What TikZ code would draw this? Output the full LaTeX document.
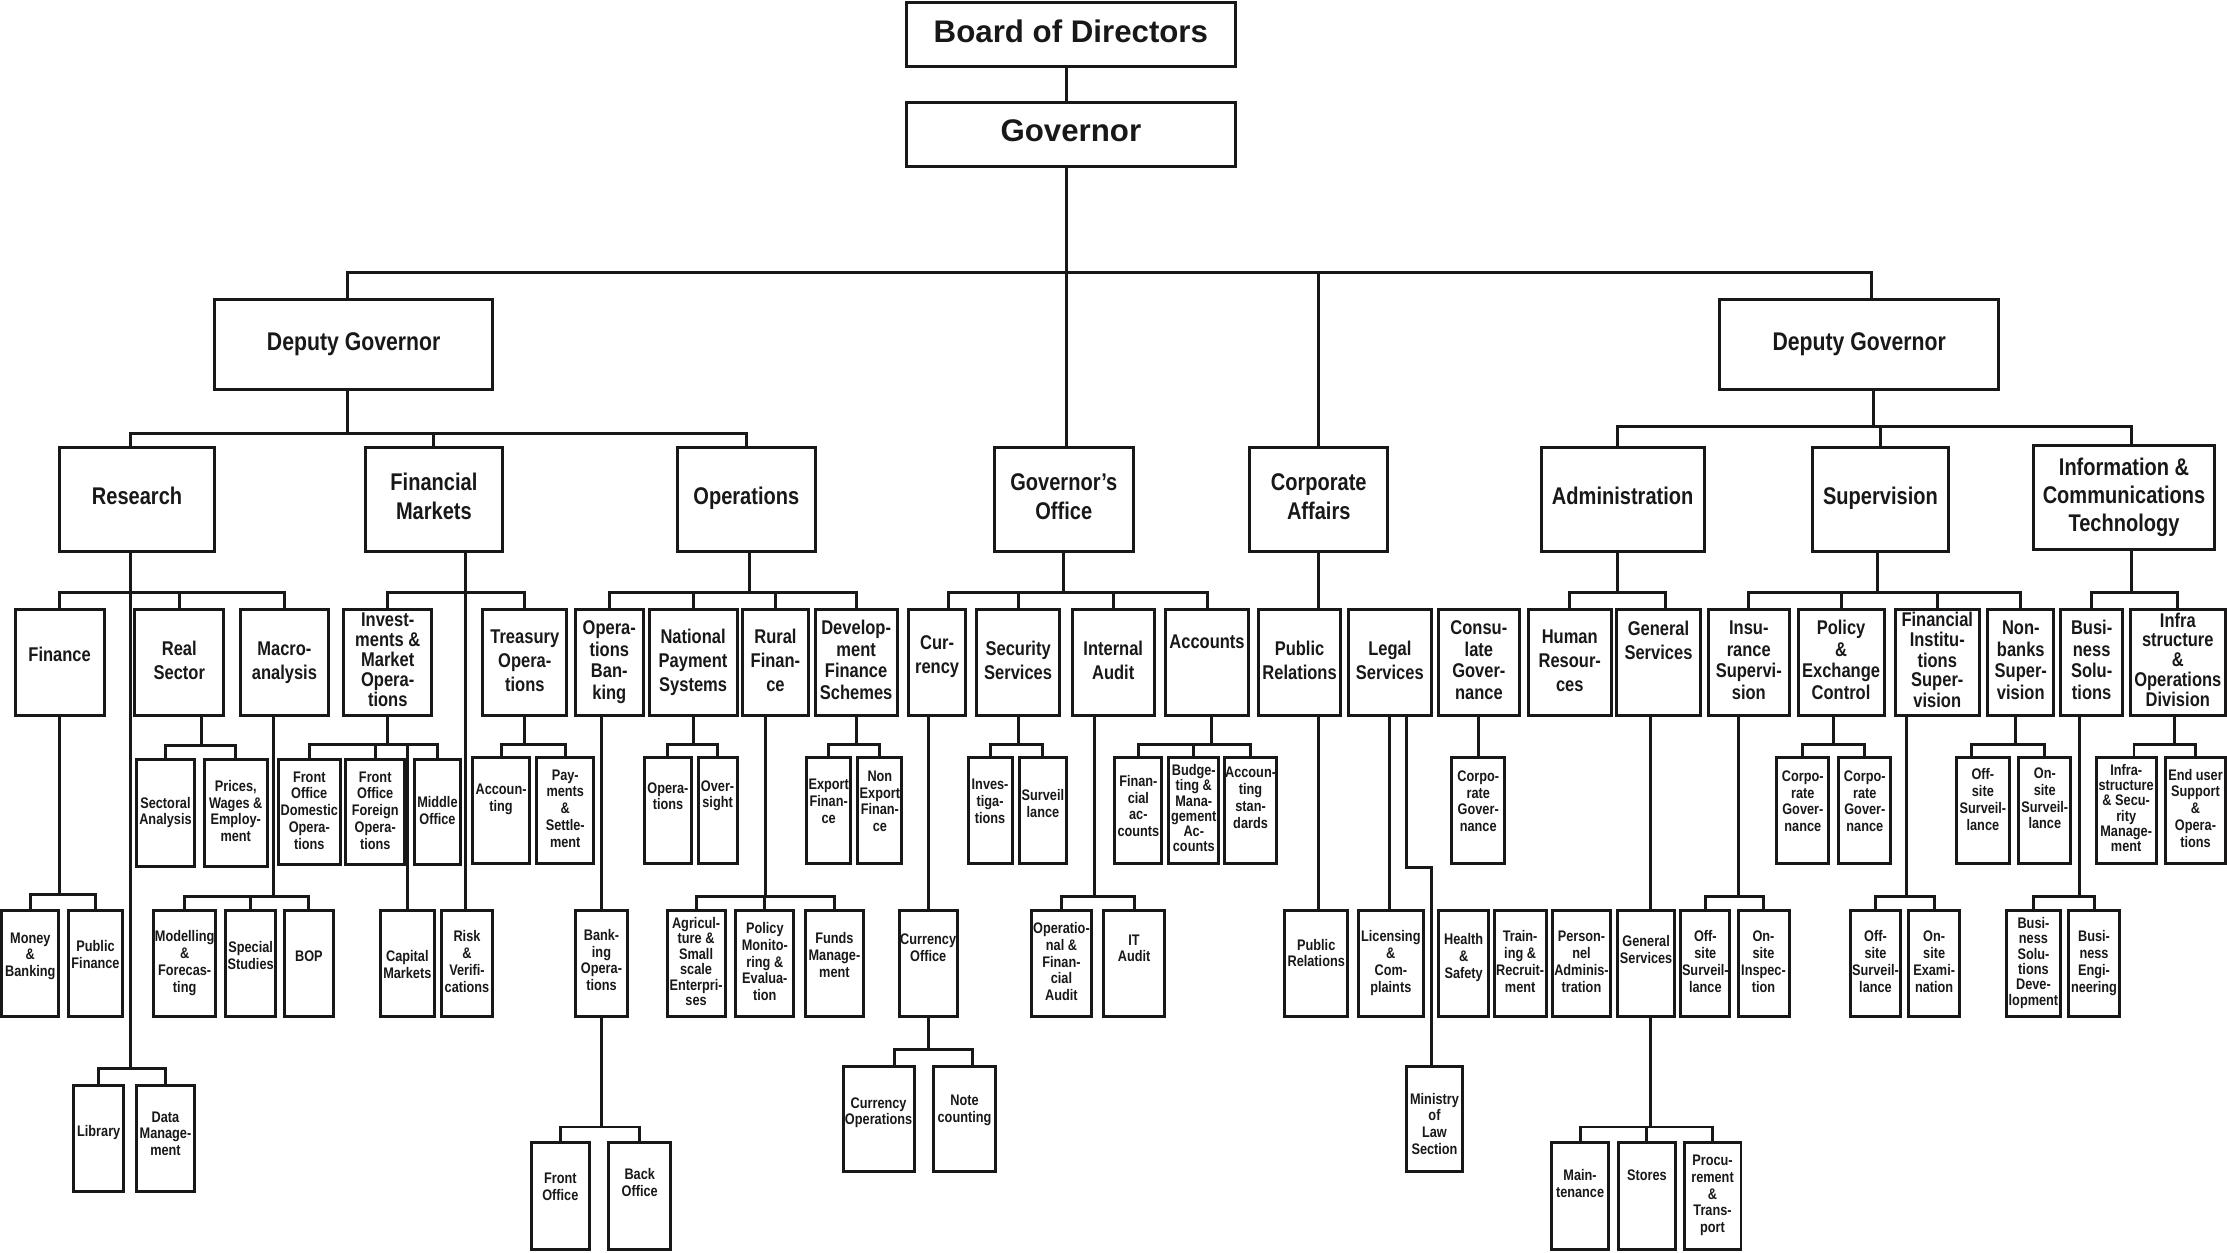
\documentclass[tikz,border=0pt]{standalone}
\usepackage{fontspec}
\setmainfont{Liberation Sans}[FakeStretch=0.83]
\newfontfamily\topfont{Liberation Sans}
\definecolor{ink}{HTML}{1A1718}
\tikzset{
 box/.style={draw=ink, line width=1.05pt, inner sep=0pt, outer sep=0pt, text=ink},
 conn/.style={draw=ink, line width=1.05pt},
 ltop/.style={font=\topfont\fontsize{11}{13}\selectfont\bfseries},
 ldg/.style={font=\fontsize{9}{11}\selectfont\bfseries},
 lone/.style={font=\fontsize{8.5}{10}\selectfont\bfseries},
 ltwo/.style={font=\fontsize{7}{8.5}\selectfont\bfseries},
 ltwoq/.style={font=\fontsize{7}{7.6}\selectfont\bfseries},
 ltwof/.style={font=\fontsize{7}{6.8}\selectfont\bfseries},
 lthree/.style={font=\fontsize{5.4}{5.9}\selectfont\bfseries},
 lthrees/.style={font=\fontsize{5.4}{5.35}\selectfont\bfseries},
}
% [text lift]{style}{name}{x1}{y1}{x2}{y2}{text}
\newcommand\bx[8][0]{%
 \pgfmathsetlengthmacro\bxw{(#6-#4)*0.5pt}%
 \pgfmathsetlengthmacro\bxh{(#7-#5)*0.5pt}%
 \node[box,#2] (#3) at ({(#4+#6)/2},{(#5+#7)/2})
  {\parbox[c][\bxh][c]{\bxw}{\centering\begin{tabular}{@{}c@{}}#8\end{tabular}\par\vspace{#1pt}}};}
\newcommand\cn[3]{\draw[conn] (#1) -- (#1 |- 0,#2) -| (#3);}
\begin{document}
\begin{tikzpicture}[x=0.5pt,y=-0.5pt]
\useasboundingbox (0,0) rectangle (1568,882);
% ---------- top levels
\bx{ltop}{bod}{638}{2}{870}{47}{Board of Directors}
\bx{ltop}{gov}{638}{72}{870}{117}{Governor}
\bx{ldg}{dgl}{151}{211}{347}{274}{Deputy Governor}
\bx{ldg}{dgr}{1211}{211}{1407}{274}{Deputy Governor}
\bx{lone}{research}{42}{315}{151}{388}{Research}
\bx{lone}{fm}{257}{315}{354}{388}{Financial\\Markets}
\bx{lone}{ops}{477}{315}{574}{388}{Operations}
\bx{lone}{goff}{700}{315}{798}{388}{Governor’s\\Office}
\bx{lone}{ca}{880}{315}{977}{388}{Corporate\\Affairs}
\bx{lone}{admin}{1085}{315}{1200}{388}{Administration}
\bx{lone}{sup}{1276}{315}{1372}{388}{Supervision}
\bx{lone}{ict}{1432}{314}{1559}{387}{Information \&\\Communications\\Technology}
% ---------- level 2
\bx[4]{ltwo}{finance}{10.6}{429}{73.4}{504}{Finance}
\bx{ltwo}{real}{95}{429}{157.5}{504}{Real\\Sector}
\bx{ltwo}{macro}{169}{429}{231.5}{504}{Macro-\\analysis}
\bx{ltwof}{inv}{242}{429}{304}{504}{Invest-\\ments \&\\Market\\Opera-\\tions}
\bx{ltwo}{treas}{340}{429}{399}{504}{Treasury\\Opera-\\tions}
\bx{ltwoq}{opsb}{405}{429}{453}{504}{Opera-\\tions\\Ban-\\king}
\bx{ltwo}{nps}{457}{429}{519}{504}{National\\Payment\\Systems}
\bx{ltwo}{rural}{523}{429}{569}{504}{Rural\\Finan-\\ce}
\bx{ltwoq}{dfs}{574}{429}{631.6}{504}{Develop-\\ment\\Finance\\Schemes}
\bx[4]{ltwo}{cur}{639.6}{429}{680}{504}{Cur-\\rency}
\bx{ltwo}{sec}{687.7}{429}{746}{504}{Security\\Services}
\bx{ltwo}{ia}{755}{429}{812.6}{504}{Internal\\Audit}
\bx[13]{ltwo}{acc}{820.7}{429}{879}{504}{Accounts}
\bx{ltwo}{pr}{886}{429}{944}{504}{Public\\Relations}
\bx{ltwo}{legal}{949.5}{429}{1007.6}{504}{Legal\\Services}
\bx{ltwoq}{cons}{1012.5}{429}{1070}{504}{Consu-\\late\\Gover-\\nance}
\bx{ltwo}{hr}{1076}{429}{1134.5}{504}{Human\\Resour-\\ces}
\bx[14]{ltwo}{gs}{1138.4}{429}{1197}{504}{General\\Services}
\bx{ltwoq}{ins}{1202.6}{429}{1260}{504}{Insu-\\rance\\Supervi-\\sion}
\bx{ltwoq}{pol}{1266}{429}{1326.5}{504}{Policy\\\&\\Exchange\\Control}
\bx{ltwof}{fis}{1334.6}{429}{1393.4}{504}{Financial\\Institu-\\tions\\Super-\\vision}
\bx{ltwoq}{nbs}{1399.6}{429}{1446}{504}{Non-\\banks\\Super-\\vision}
\bx{ltwoq}{bs}{1451}{429}{1494.4}{504}{Busi-\\ness\\Solu-\\tions}
\bx{ltwof}{infra}{1499.7}{429}{1567}{504}{Infra\\structure\\\&\\Operations\\Division}
% ---------- level 3, upper row
\bx{lthree}{sectoral}{96}{535}{137}{610}{Sectoral\\Analysis}
\bx{lthree}{prices}{144}{535}{188}{610}{Prices,\\Wages \&\\Employ-\\ment}
\bx{lthree}{fod}{196}{535}{239.5}{609}{Front\\Office\\Domestic\\Opera-\\tions}
\bx{lthree}{fof}{243.4}{535}{285}{609}{Front\\Office\\Foreign\\Opera-\\tions}
\bx{lthree}{mid}{291.6}{535}{324.4}{609}{Middle\\Office}
\bx[7.5]{lthree}{acctg}{333}{533}{372.6}{608}{Accoun-\\ting}
\bx{lthree}{pay}{378}{533}{418}{608}{Pay-\\ments\\\&\\Settle-\\ment}
\bx[8.5]{lthree}{npsop}{454}{533}{486.6}{608}{Opera-\\tions}
\bx[10]{lthree}{over}{491.5}{533}{519}{608}{Over-\\sight}
\bx[5]{lthree}{exp}{568}{533}{599}{608}{Export\\Finan-\\ce}
\bx[5]{lthree}{nexp}{604}{533}{635}{608}{Non\\Export\\Finan-\\ce}
\bx[5]{lthree}{invg}{681.6}{533}{712.6}{608}{Inves-\\tiga-\\tions}
\bx[3.5]{lthree}{surv}{717.6}{533}{751}{608}{Surveil\\lance}
\bx[1.5]{lthree}{finacc}{785}{533}{818}{608}{Finan-\\cial\\ac-\\counts}
\bx{lthrees}{budget}{823}{533}{858}{608}{Budge-\\ting \&\\Mana-\\gement\\Ac-\\counts}
\bx[7.5]{lthree}{accstd}{862}{533}{899}{608}{Accoun-\\ting\\stan-\\dards}
\bx[5]{lthree}{corpgov}{1022}{533}{1059.6}{608}{Corpo-\\rate\\Gover-\\nance}
\bx[5]{lthree}{pcga}{1251}{533}{1287.7}{608}{Corpo-\\rate\\Gover-\\nance}
\bx[5]{lthree}{pcgb}{1294.6}{533}{1331.4}{608}{Corpo-\\rate\\Gover-\\nance}
\bx[6]{lthree}{nbsoff}{1377.7}{533}{1414.5}{608}{Off-\\site\\Surveil-\\lance}
\bx[7]{lthree}{nbson}{1421.4}{533}{1458}{608}{On-\\site\\Surveil-\\lance}
\bx{lthrees}{infsec}{1476}{533}{1518}{608}{Infra-\\structure\\\& Secu-\\rity\\Manage-\\ment}
\bx{lthree}{enduser}{1524.6}{533}{1567}{608}{End user\\Support\\\&\\Opera-\\tions}
% ---------- level 3, lower row
\bx[5]{lthree}{money}{1.2}{641}{41.5}{716}{Money\\\&\\Banking}
\bx[5]{lthree}{pubfin}{48.5}{641}{86}{716}{Public\\Finance}
\bx{lthree}{model}{108}{641}{152}{716}{Modelling\\\&\\Forecas-\\ting}
\bx[4]{lthree}{special}{159}{641}{194}{716}{Special\\Studies}
\bx[4]{lthree}{bop}{200}{641}{235}{716}{BOP}
\bx[-2]{lthree}{capm}{268}{641}{305.6}{716}{Capital\\Markets}
\bx{lthree}{risk}{310.6}{641}{347}{716}{Risk\\\&\\Verifi-\\cations}
\bx[1]{lthree}{bankops}{405}{641}{442}{716}{Bank-\\ing\\Opera-\\tions}
\bx{lthrees}{agri}{469.7}{641}{510.5}{716}{Agricul-\\ture \&\\Small\\scale\\Enterpri-\\ses}
\bx{lthree}{polmon}{518}{641}{559}{716}{Policy\\Monito-\\ring \&\\Evalua-\\tion}
\bx[4.5]{lthree}{funds}{567}{641}{608}{716}{Funds\\Manage-\\ment}
\bx[10]{lthree}{curoff}{633}{641}{674}{716}{Currency\\Office}
\bx{lthree}{opfin}{726}{641}{768.7}{716}{Operatio-\\nal \&\\Finan-\\cial\\Audit}
\bx[9.5]{lthree}{itaud}{777}{641}{820}{716}{IT\\Audit}
\bx[6]{lthree}{prthree}{904.5}{641}{949}{716}{Public\\Relations}
\bx{lthree}{lic}{956.5}{641}{1002}{716}{Licensing\\\&\\Com-\\plaints}
\bx[4]{lthree}{hs}{1013}{641}{1048}{716}{Health\\\&\\Safety}
\bx{lthree}{train}{1052}{641}{1088.6}{716}{Train-\\ing \&\\Recruit-\\ment}
\bx{lthree}{pers}{1093}{641}{1134}{716}{Person-\\nel\\Adminis-\\tration}
\bx[8.5]{lthree}{gsthree}{1139}{641}{1179}{716}{General\\Services}
\bx{lthree}{insoff}{1183.4}{641}{1218}{716}{Off-\\site\\Surveil-\\lance}
\bx{lthree}{inson}{1223.7}{641}{1259.6}{716}{On-\\site\\Inspec-\\tion}
\bx{lthree}{fisoff}{1303}{641}{1338}{716}{Off-\\site\\Surveil-\\lance}
\bx{lthree}{fison}{1344}{641}{1379.6}{716}{On-\\site\\Exami-\\nation}
\bx{lthrees}{bsdev}{1412.4}{641}{1451}{716}{Busi-\\ness\\Solu-\\tions\\Deve-\\lopment}
\bx{lthree}{bseng}{1456.7}{641}{1492}{716}{Busi-\\ness\\Engi-\\neering}
% ---------- deeper levels
\bx[3.5]{lthree}{library}{52}{764}{87}{839}{Library}
\bx[2]{lthree}{data}{96}{764}{137}{839}{Data\\Manage-\\ment}
\bx[-5]{lthree}{ministry}{990}{750.6}{1030}{825}{Ministry\\of\\Law\\Section}
\bx[4]{lthree}{curops}{593.6}{750.6}{643.6}{825}{Currency\\Operations}
\bx[6]{lthree}{note}{657.6}{750.6}{700.6}{825}{Note\\counting}
\bx[5]{lthree}{front}{374}{804.5}{415}{879.5}{Front\\Office}
\bx[8]{lthree}{back}{428.5}{804.5}{472.4}{879.5}{Back\\Office}
\bx[7]{lthree}{maint}{1092.4}{804.5}{1132.6}{879.5}{Main-\\tenance}
\bx[13.5]{lthree}{stores}{1139.5}{804.5}{1179.7}{879.5}{Stores}
\bx{lthree}{proc}{1185.7}{804.5}{1225.8}{879.5}{Procu-\\rement\\\&\\Trans-\\port}
% ---------- connectors
\coordinate (bodB) at ([xshift=-1.5pt]bod.south);
\coordinate (govT) at ([xshift=-1.5pt]gov.north);
\coordinate (govB) at ([xshift=-1.5pt]gov.south);
\draw[conn] (bodB) -- (govT);
\coordinate (dglT) at ([xshift=-2pt]dgl.north);
\coordinate (dgrT) at ([xshift=4.5pt]dgr.north);
\cn{govB}{192}{dglT}
\cn{govB}{192}{dgrT}
\cn{govB}{192}{ca.north}
\draw[conn] (govB) -- (govB |- goff.north);
% left deputy
\coordinate (dglB) at ([xshift=-2pt]dgl.south);
\coordinate (resT) at ([xshift=-2.25pt]research.north);
\cn{dglB}{305}{resT}
\cn{dglB}{305}{fm.north}
\cn{dglB}{305}{ops.north}
% right deputy
\coordinate (dgrB) at ([xshift=5pt]dgr.south);
\coordinate (admT) at ([xshift=-2pt]admin.north);
\coordinate (ictT) at ([xshift=2.75pt]ict.north);
\cn{dgrB}{300}{admT}
\cn{dgrB}{300}{sup.north}
\cn{dgrB}{300}{ictT}
% corporate affairs
\draw[conn] (ca.south) -- (ca.south |- pr.north);
\draw[conn] (ca.south |- pr.south) -- (ca.south |- prthree.north);
% governor's office
\coordinate (curT) at ([xshift=3.9pt]cur.north);
\cn{goff.south}{417}{curT}
\cn{goff.south}{417}{sec.north}
\cn{goff.south}{417}{ia.north}
\cn{goff.south}{417}{acc.north}
% research
\coordinate (resB) at ([xshift=-2.25pt]research.south);
\cn{resB}{417}{finance.north}
\cn{resB}{417}{real.north}
\cn{resB}{417}{macro.north}
\cn{resB}{752}{library.north}
\cn{resB}{752}{data.north}
\cn{finance.south}{630}{money.north}
\cn{finance.south}{630}{pubfin.north}
\coordinate (realB) at ([xshift=7.9pt]real.south);
\cn{realB}{525}{sectoral.north}
\cn{realB}{525}{prices.north}
\coordinate (macB) at ([xshift=-3.8pt]macro.south);
\cn{macB}{631.5}{model.north}
\cn{macB}{631.5}{special.north}
\cn{macB}{631.5}{bop.north}
% financial markets
\coordinate (fmB) at ([xshift=11pt]fm.south);
\cn{fmB}{417}{inv.north}
\cn{fmB}{417}{treas.north}
\draw[conn] (fmB) -- (fmB |- risk.north);
\cn{inv.south}{524.5}{fod.north}
\cn{inv.south}{524.5}{fof.north}
\cn{inv.south}{524.5}{mid.north}
\draw[conn] (capm.north) -- (capm.north |- 0,524.5);
\cn{treas.south}{524.5}{acctg.north}
\cn{treas.south}{524.5}{pay.north}
% operations
\coordinate (opsB) at ([xshift=1.25pt]ops.south);
\cn{opsB}{417}{opsb.north}
\cn{opsB}{417}{nps.north}
\cn{opsB}{417}{rural.north}
\cn{opsB}{417}{dfs.north}
\coordinate (opsbB) at ([xshift=-2.65pt]opsb.south);
\draw[conn] (opsbB) -- (opsbB |- bankops.north);
\cn{bankops.south}{793.5}{front.north}
\cn{bankops.south}{793.5}{back.north}
\cn{nps.south}{524.5}{npsop.north}
\cn{nps.south}{524.5}{over.north}
\coordinate (rurB) at ([xshift=-3.5pt]rural.south);
\cn{rurB}{631.5}{agri.north}
\cn{rurB}{631.5}{polmon.north}
\cn{rurB}{631.5}{funds.north}
\cn{dfs.south}{524.5}{exp.north}
\cn{dfs.south}{524.5}{nexp.north}
% governor's office children
\coordinate (curB) at ([xshift=-2.9pt]cur.south);
\draw[conn] (curB) -- (curB |- curoff.north);
\coordinate (curopsT) at ([xshift=5.7pt]curops.north);
\coordinate (noteT) at ([xshift=2.65pt]note.north);
\cn{curoff.south}{739}{curopsT}
\cn{curoff.south}{739}{noteT}
\cn{sec.south}{524.5}{invg.north}
\cn{sec.south}{524.5}{surv.north}
\coordinate (iaB) at ([xshift=-6.65pt]ia.south);
\cn{iaB}{631.5}{opfin.north}
\cn{iaB}{631.5}{itaud.north}
\coordinate (accB) at ([xshift=1.5pt]acc.south);
\cn{accB}{524.5}{finacc.north}
\cn{accB}{524.5}{budget.north}
\cn{accB}{524.5}{accstd.north}
% legal, consulate
\draw[conn] (legal.south) -- (legal.south |- lic.north);
\coordinate (legB) at ([xshift=5.75pt]legal.south);
\coordinate (minT) at ([xshift=-1.2pt]ministry.north);
\draw[conn] (legB) |- (minT |- 0,611) -- (minT);
\draw[conn] (cons.south) -- (cons.south |- corpgov.north);
% administration
\coordinate (admB) at ([xshift=-2pt]admin.south);
\coordinate (gsT) at ([xshift=2.4pt]gs.north);
\cn{admB}{417}{hr.north}
\cn{admB}{417}{gsT}
\coordinate (gsB) at ([xshift=-2.85pt]gs.south);
\draw[conn] (gsB) -- (gsB |- gsthree.north);
\coordinate (gsthreeB) at ([xshift=1.5pt]gsthree.south);
\cn{gsthreeB}{793.5}{maint.north}
\cn{gsthreeB}{793.5}{stores.north}
\cn{gsthreeB}{793.5}{proc.north}
% supervision
\coordinate (supB) at ([xshift=-1pt]sup.south);
\cn{supB}{417}{ins.north}
\cn{supB}{417}{pol.north}
\cn{supB}{417}{fis.north}
\cn{supB}{417}{nbs.north}
\coordinate (insB) at ([xshift=-3.8pt]ins.south);
\cn{insB}{631.5}{insoff.north}
\cn{insB}{631.5}{inson.north}
\coordinate (polB) at ([xshift=-2.6pt]pol.south);
\cn{polB}{524.5}{pcga.north}
\cn{polB}{524.5}{pcgb.north}
\coordinate (fisB) at ([xshift=-10.85pt]fis.south);
\cn{fisB}{631.5}{fisoff.north}
\cn{fisB}{631.5}{fison.north}
\coordinate (nbsB) at ([xshift=-2pt]nbs.south);
\coordinate (nbsoffT) at ([xshift=-4pt]nbsoff.north);
\cn{nbsB}{524.5}{nbsoffT}
\cn{nbsB}{524.5}{nbson.north}
% ICT
\coordinate (ictB) at ([xshift=2.75pt]ict.south);
\cn{ictB}{417}{bs.north}
\cn{ictB}{417}{infra.north}
\coordinate (bsB) at ([xshift=-4.15pt]bs.south);
\cn{bsB}{631.5}{bsdev.north}
\cn{bsB}{631.5}{bseng.north}
\coordinate (infB) at ([xshift=-1.2pt]infra.south);
\coordinate (infsecT) at ([xshift=2.75pt]infsec.north);
\cn{infB}{524.5}{infsecT}
\cn{infB}{524.5}{enduser.north}
\end{tikzpicture}
\end{document}
